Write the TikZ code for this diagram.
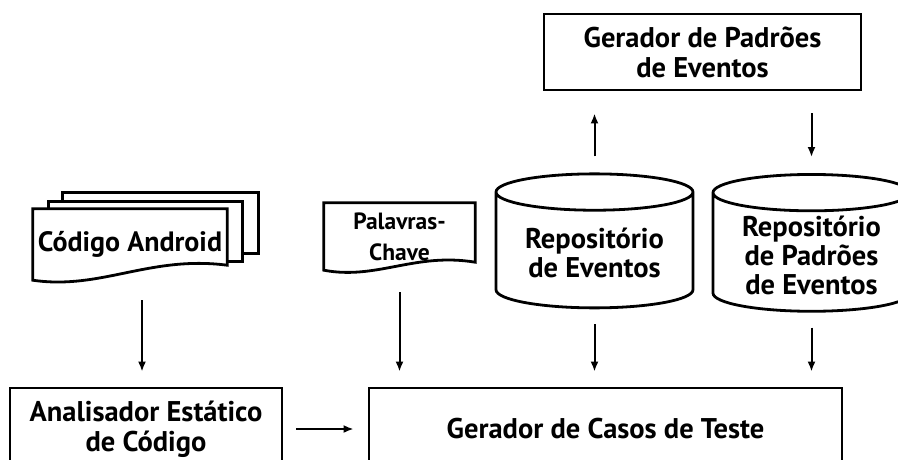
\documentclass[tikz,border=0pt]{standalone}
\usepackage{fontspec}
\setmainfont{PT Sans}
\usetikzlibrary{shapes.geometric,backgrounds,calc,arrows.meta}

% document shape with a wavy bottom, drawn round a node
\newcommand{\docframe}[2]{%
  \draw[line width=2.8pt,fill=white] (#1.north west) -- (#1.south west)
    .. controls ($(#1.south west)!0.35!(#1.south east)+(0,10)$)
    and ($(#1.south west)!0.6!(#1.south east)+(0,-#2-10)$)
    .. ($(#1.south east)+(0,-#2)$) -- (#1.north east) -- cycle;}

\begin{document}
\begin{tikzpicture}[x=1pt,y=-1pt,
  box/.style={draw,line width=2.8pt,align=center,font=\fontsize{28.5}{30}\selectfont\bfseries},
  repo/.style={cylinder,shape border rotate=90,draw,line width=2.8pt,aspect=0.25,
    minimum width=197pt,minimum height=134pt,align=center,font=\fontsize{28.5}{29}\selectfont\bfseries},
  doc/.style={align=center,font=\fontsize{28}{30}\selectfont\bfseries},
  arr/.style={black,-{Latex[length=10pt,width=8pt]},line width=2pt}]
 \path[use as bounding box,clip] (0,0) rectangle (898,459);
 \node[box,minimum width=317pt,minimum height=76pt] (patterngen) at (702.5,52) {Gerador de Padrões\\de Eventos};
 \node[repo] (eventrepo) at (594.5,253) {Repositório\\de Eventos};
 \node[repo] (patternrepo) at (811.5,255) {Repositório\\de Padrões\\de Eventos};
 \node[doc,minimum width=151pt,minimum height=67pt,font=\fontsize{23.5}{31}\selectfont\bfseries] (keywords) at (399.5,236.5) {Palavras-\\Chave};
 \node[doc,minimum width=194pt,minimum height=71pt] (code) at (130,244.5) {Código Android};
 \node[box,minimum width=272pt,minimum height=82pt] (analyzer) at (146,429) {Analisador Estático\\de Código};
 \node[box,minimum width=473pt,minimum height=82pt] (testgen) at (605.5,429) {Gerador de Casos de Teste};
 \begin{pgfonlayer}{background}
  \draw[line width=2.8pt,fill=white] ([xshift=30pt,yshift=16pt]code.north west) rectangle ([xshift=31pt,yshift=27pt]code.south east);
  \draw[line width=2.8pt,fill=white] ([xshift=16pt,yshift=7pt]code.north west) rectangle ([xshift=15pt,yshift=19pt]code.south east);
  \docframe{code}{15}
  \docframe{keywords}{8}
 \end{pgfonlayer}
 \draw[arr,shorten <=20pt,shorten >=15pt] ([xshift=12pt]code.south) -- ([xshift=12pt]code.south |- analyzer.north);
 \draw[arr,shorten <=22pt,shorten >=15pt] (keywords.south) -- (keywords.south |- testgen.north);
 \draw[arr,shorten <=15pt,shorten >=15pt] (eventrepo.south) -- (eventrepo.south |- testgen.north);
 \draw[arr,shorten <=15pt,shorten >=15pt] (patternrepo.south) -- (patternrepo.south |- testgen.north);
 \draw[arr,shorten <=16pt,shorten >=22pt] (eventrepo.north) -- (eventrepo.north |- patterngen.south);
 \draw[arr,shorten <=22pt,shorten >=16pt] (patternrepo.north |- patterngen.south) -- (patternrepo.north);
 \draw[arr,shorten <=13pt,shorten >=14pt] (analyzer.east) -- (testgen.west);
\end{tikzpicture}
\end{document}
